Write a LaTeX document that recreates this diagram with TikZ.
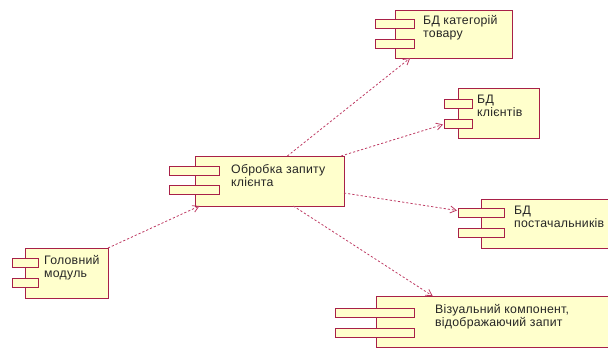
\documentclass[tikz,border=0pt]{standalone}
\usepackage{fontspec}
\setmainfont{Liberation Sans}[LetterSpace=2]
\usetikzlibrary{calc,arrows.meta}

\definecolor{compfill}{RGB}{255,255,204}
\definecolor{compline}{RGB}{168,32,72}
\definecolor{depline}{RGB}{190,60,100}

\tikzset{
  compbody/.style={draw=compline, fill=compfill, line width=0.9pt,
    anchor=north west, inner sep=0pt, outer sep=0pt},
  compport/.style={draw=compline, fill=compfill, line width=0.9pt,
    anchor=north west, inner sep=0pt, outer sep=0pt},
  complabel/.style={anchor=base west, inner sep=0pt,
    font=\fontsize{12.3}{13}\selectfont, text=black!85},
  depend/.style={draw=depline, line width=0.8pt,
    dash pattern=on 2.2pt off 2pt,
    -{Straight Barb[length=6pt,width=7pt,line width=0.8pt]}},
}

% a UML component: body, two ports on its left edge
\newcommand{\umlcomp}[9]{%
  % #1 name, #2 x, #3 y, #4 width, #5 height, #6 port x, #7 port width,
  % #8 first port y, #9 second port y
  \node[compbody, minimum width=#4pt, minimum height=#5pt] (#1) at (#2,#3) {};
  \node[compport, minimum width=#7pt, minimum height=9pt] (#1-p1) at (#6,#8) {};
  \node[compport, minimum width=#7pt, minimum height=9pt] (#1-p2) at (#6,#9) {};
}

\begin{document}
\begin{tikzpicture}[x=1pt,y=-1pt]
\useasboundingbox (0,0) rectangle (608,349);

% components
\umlcomp{cat}{395}{10}{117}{48}{375}{39}{19}{39}
\umlcomp{cli}{458}{88}{81}{50}{444}{28}{99}{119}
\umlcomp{proc}{195}{156}{149}{50}{169}{50}{166}{185}
\umlcomp{sup}{481}{199}{131}{49}{458}{46}{208}{228}
\umlcomp{main}{25}{248}{83}{50}{12}{26}{258}{278}
\umlcomp{vis}{376}{296}{236}{51}{335}{79}{308}{328}

% labels
\node[complabel] (cat-l1) at (423,24) {БД категорій};
\node[complabel] (cat-l2) at (423,37) {товару};
\node[complabel] (cli-l1) at (477,103) {БД};
\node[complabel] (cli-l2) at (477,116) {клієнтів};
\node[complabel] (proc-l1) at (231,173) {Обробка запиту};
\node[complabel] (proc-l2) at (231,186) {клієнта};
\node[complabel] (sup-l1) at (514,214) {БД};
\node[complabel] (sup-l2) at (514,227) {постачальників};
\node[complabel] (main-l1) at (44,264) {Головний};
\node[complabel] (main-l2) at (44,277) {модуль};
\node[complabel] (vis-l1) at (435,313) {Візуальний компонент,};
\node[complabel] (vis-l2) at (435,326) {відображаючий запит};

% dependencies
\draw[depend] (main.north east) -- ($(proc.south west)!0.03!(proc.south east)$);
\draw[depend] ($(proc.north west)!0.62!(proc.north east)$) -- ($(cat.south west)!0.13!(cat.south east)$);
\draw[depend] ($(proc.north east)+(-3,0)$) -- ($(cli-p2.west)+(-1,1)$);
\draw[depend] ($(proc.north east)!0.74!(proc.south east)$) -- ($(sup-p1.west)+(-1,-2)$);
\draw[depend] ($(proc.south west)!0.66!(proc.south east)$) -- ($(vis.north west)!0.24!(vis.north east)$);
\end{tikzpicture}
\end{document}
